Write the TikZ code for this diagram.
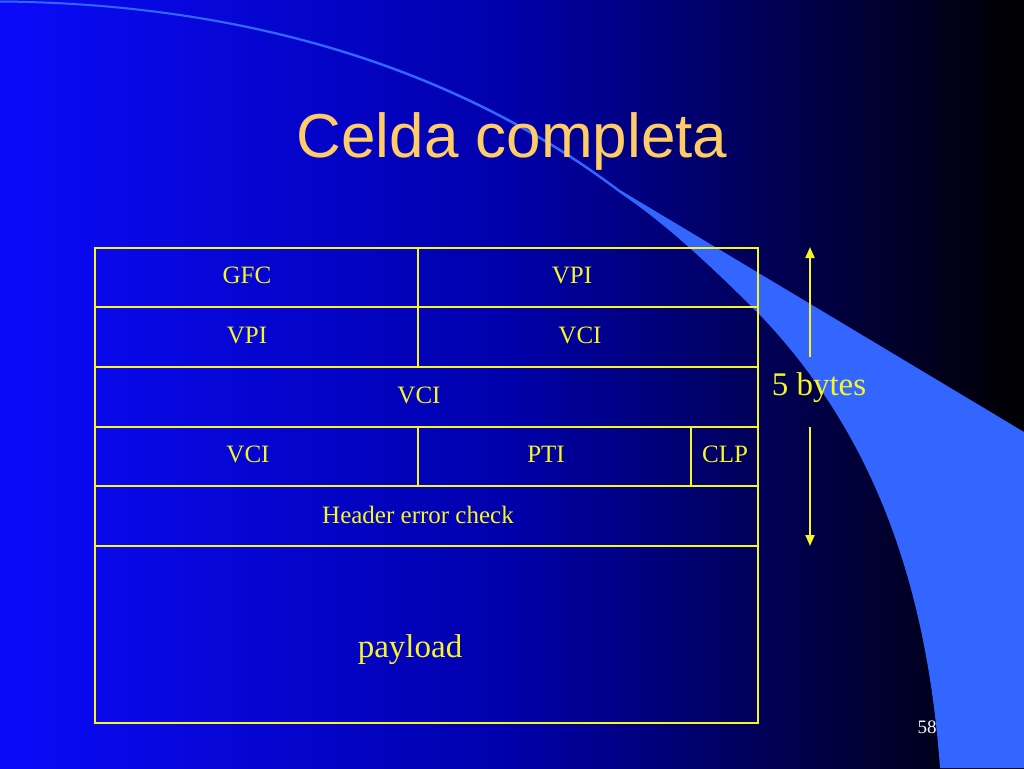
\documentclass[tikz,border=0pt]{standalone}
\usepackage{fontspec}
\setmainfont{Liberation Serif}
\newfontfamily\titlefont{Liberation Sans}
\usetikzlibrary{arrows.meta}
\definecolor{slideblue}{RGB}{10,10,250}
\definecolor{slidemid}{RGB}{0,0,170}
\definecolor{swoosh}{RGB}{51,102,255}
\definecolor{titlecol}{RGB}{255,204,102}
\definecolor{cellline}{RGB}{245,245,40}
\begin{document}
\begin{tikzpicture}[x=1pt,y=-1pt,
    field/.style={anchor=base,text=cellline,font=\fontsize{25}{30}\selectfont},
    big/.style={anchor=base,text=cellline,font=\fontsize{33}{40}\selectfont},
    bar/.style={draw=cellline,line width=2.5pt},
    sizearrow/.style={draw=cellline,line width=2pt,-{Triangle[width=9pt,length=11pt]}}]
  \useasboundingbox (0,0) rectangle (1024,768);
  % background and swoosh
  \shade[left color=slideblue,right color=black,middle color=slidemid] (0,0) rectangle (1024,768);
  \fill[swoosh] (0,0.5) .. controls (250,2.5) and (460,69) .. (620,190) -- (1024,432)
    -- (1024,768) -- (940,768) .. controls (925,560) and (860,420) .. (760,315)
    .. controls (700,255) and (660,220) .. (620,193) .. controls (460,72) and (250,4.5) .. (0,2.5) -- cycle;
  \node[anchor=base,text=titlecol,font=\titlefont\fontsize{62}{74}\selectfont] (title) at (512,157) {Celda completa};
  % cell
  \draw[draw=cellline,line width=2.5pt] (95,248) rectangle (758,723);
  \draw[bar] (95,307) -- (758,307);
  \draw[bar] (95,367) -- (758,367);
  \draw[bar] (95,427) -- (758,427);
  \draw[bar] (95,486) -- (758,486);
  \draw[bar] (95,546) -- (758,546);
  \draw[draw=cellline,line width=1.5pt] (418,248) -- (418,367);
  \draw[draw=cellline,line width=1.5pt] (418,427) -- (418,486);
  \draw[draw=cellline,line width=1.5pt] (691,427) -- (691,486);
  \node[field] (gfc) at (247,283) {GFC};
  \node[field] (vpiA) at (572,283) {VPI};
  \node[field] (vpiB) at (247,343) {VPI};
  \node[field] (vciA) at (580,343) {VCI};
  \node[field] (vciB) at (419,403) {VCI};
  \node[field] (vciC) at (248,462) {VCI};
  \node[field] (pti) at (546,462) {PTI};
  \node[field] (clp) at (725,462) {CLP};
  \node[field] (hec) at (418,523) {Header error check};
  \node[big] (payload) at (410,657) {payload};
  % header size
  \node[big] (bytes) at (819,395) {5 bytes};
  \coordinate (upfrom) at (810,357);
  \coordinate (uptip) at (810,247);
  \coordinate (downfrom) at (810,427);
  \coordinate (downtip) at (810,546);
  \draw[sizearrow] (upfrom) -- (uptip);
  \draw[sizearrow] (downfrom) -- (downtip);
  \node[anchor=base,text=white!92!gray,font=\fontsize{19}{23}\selectfont] (page) at (927,733) {58};
\end{tikzpicture}
\end{document}
